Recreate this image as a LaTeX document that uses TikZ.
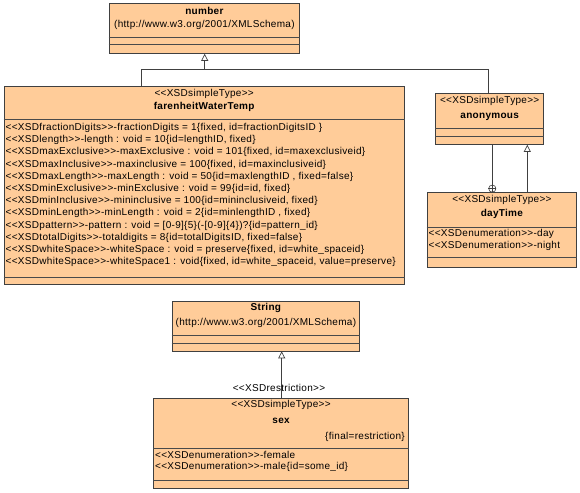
\documentclass[tikz,border=0pt]{standalone}
\usepackage{fontspec}
\newfontfamily\umlfont{Liberation Sans}[LetterSpace=3]
\usetikzlibrary{arrows.meta}
\definecolor{peach}{HTML}{FFCC99}
\definecolor{edgec}{HTML}{404040}
\definecolor{sepc}{HTML}{4A4A4A}
\begin{document}
\begin{tikzpicture}[x=1pt,y=-1pt,
  cls/.style={draw=edgec, fill=peach, line width=0.8pt, rectangle, inner sep=0pt, anchor=north west},
  sepline/.style={draw=sepc, line width=0.7pt},
  txt/.style={inner sep=0pt, font=\umlfont\fontsize{10}{11}\selectfont},
  ttl/.style={inner sep=0pt, font=\umlfont\bfseries\fontsize{10}{11}\selectfont},
  conn/.style={draw=edgec, line width=0.7pt},
  gen/.style={conn, -{Triangle[open, width=7pt, length=7pt]}}]
\useasboundingbox (0,0) rectangle (580,492);

% number
\node[cls, minimum width=190.6pt, minimum height=49.7pt] (num) at (108.7,3.3) {};
\node[ttl, anchor=mid] (numT) at (num.center |- 0,12) {number};
\node[txt, anchor=mid] (numU) at (num.center |- 0,25) {(http://www.w3.org/2001/XMLSchema)};
\draw[sepline] (num.west |- 0,37.3) -- (num.east |- 0,37.3);
\draw[sepline] (num.west |- 0,44) -- (num.east |- 0,44);

% farenheitWaterTemp
\node[cls, minimum width=400.5pt, minimum height=198pt] (fwt) at (3.5,86) {};
\node[txt, anchor=mid] (fwtS) at (fwt.center |- 0,94) {<<XSDsimpleType>>};
\node[ttl, anchor=mid] (fwtT) at (fwt.center |- 0,107) {farenheitWaterTemp};
\draw[sepline] (fwt.west |- 0,119.3) -- (fwt.east |- 0,119.3);
\foreach \t [count=\i from 0] in {
  {<<XSDfractionDigits>>-fractionDigits = 1\{fixed, id=fractionDigitsID \}},
  {<<XSDlength>>-length : void = 10\{id=lengthID, fixed\}},
  {<<XSDmaxExclusive>>-maxExclusive : void = 101\{fixed, id=maxexclusiveid\}},
  {<<XSDmaxInclusive>>-maxinclusive = 100\{fixed, id=maxinclusiveid\}},
  {<<XSDmaxLength>>-maxLength : void = 50\{id=maxlengthID , fixed=false\}},
  {<<XSDminExclusive>>-minExclusive : void = 99\{id=id, fixed\}},
  {<<XSDminInclusive>>-mininclusive = 100\{id=mininclusiveid, fixed\}},
  {<<XSDminLength>>-minLength : void = 2\{id=minlengthID , fixed\}},
  {<<XSDpattern>>-pattern : void = [0-9]\{5\}(-[0-9]\{4\})?\{id=pattern\_id\}},
  {<<XSDtotalDigits>>-totaldigits = 8\{id=totalDigitsID, fixed=false\}},
  {<<XSDwhiteSpace>>-whiteSpace : void = preserve\{fixed, id=white\_spaceid\}},
  {<<XSDwhiteSpace>>-whiteSpace1 : void\{fixed, id=white\_spaceid, value=preserve\}}}
  \node[txt, anchor=mid west] (fa\i) at (5.5,{128.3+12.2*\i}) {\t};
\draw[sepline] (fwt.west |- 0,277.3) -- (fwt.east |- 0,277.3);

% anonymous
\node[cls, minimum width=108pt, minimum height=50.7pt] (anon) at (435.3,93.3) {};
\node[txt, anchor=mid] (anonS) at (anon.center |- 0,101.7) {<<XSDsimpleType>>};
\node[ttl, anchor=mid] (anonT) at (anon.center |- 0,116) {anonymous};
\draw[sepline] (anon.west |- 0,128.3) -- (anon.east |- 0,128.3);
\draw[sepline] (anon.west |- 0,136.5) -- (anon.east |- 0,136.5);

% dayTime
\node[cls, minimum width=149.6pt, minimum height=75pt] (day) at (426.7,192.3) {};
\node[txt, anchor=mid] (dayS) at (day.center |- 0,200.5) {<<XSDsimpleType>>};
\node[ttl, anchor=mid] (dayT) at (day.center |- 0,214.5) {dayTime};
\draw[sepline] (day.west |- 0,227.5) -- (day.east |- 0,227.5);
\node[txt, anchor=mid west] (day1) at (428.5,234) {<<XSDenumeration>>-day};
\node[txt, anchor=mid west] (day2) at (428.5,246) {<<XSDenumeration>>-night};
\draw[sepline] (day.west |- 0,257.5) -- (day.east |- 0,257.5);

% String
\node[cls, minimum width=187.6pt, minimum height=49.8pt] (str) at (171.7,300.7) {};
\node[ttl, anchor=mid] (strT) at (str.center |- 0,308.3) {String};
\node[txt, anchor=mid] (strU) at (str.center |- 0,323.3) {(http://www.w3.org/2001/XMLSchema)};
\draw[sepline] (str.west |- 0,335.7) -- (str.east |- 0,335.7);
\draw[sepline] (str.west |- 0,343.3) -- (str.east |- 0,343.3);

% sex
\node[cls, minimum width=254.7pt, minimum height=89.7pt] (sex) at (153.3,398.3) {};
\node[txt, anchor=mid] (sexS) at (sex.center |- 0,405.7) {<<XSDsimpleType>>};
\node[ttl, anchor=mid] (sexT) at (sex.center |- 0,421.7) {sex};
\node[txt, anchor=mid east] (sexF) at (405,437.7) {\{final=restriction\}};
\draw[sepline] (sex.west |- 0,448.7) -- (sex.east |- 0,448.7);
\node[txt, anchor=mid west] (sex1) at (155,456.5) {<<XSDenumeration>>-female};
\node[txt, anchor=mid west] (sex2) at (155,467.5) {<<XSDenumeration>>-male\{id=some\_id\}};
\draw[sepline] (sex.west |- 0,480.5) -- (sex.east |- 0,480.5);

% connectors
\coordinate (jn) at (204.7,69.3);
\draw[gen] (jn) -- (num.south -| jn);
\draw[conn] (fwt.north -| 141,0) |- (jn);
\draw[conn] (anon.north -| 488.3,0) |- (jn);

\node[draw=edgec, line width=0.6pt, circle, minimum size=7.2pt, inner sep=0pt] (nest) at (492.3,188.6) {};
\draw[conn, line width=0.6pt] (nest.north) -- (nest.south) (nest.west) -- (nest.east);
\draw[conn] (anon.south -| nest) -- (nest.north);
\draw[gen] (day.north -| 527.3,0) -- (anon.south -| 527.3,0);

\draw[gen] (sex.north -| 281.7,0) -- (str.south -| 281.7,0);
\node[txt, anchor=mid] (rest) at (279,389) {<<XSDrestriction>>};
\end{tikzpicture}
\end{document}
